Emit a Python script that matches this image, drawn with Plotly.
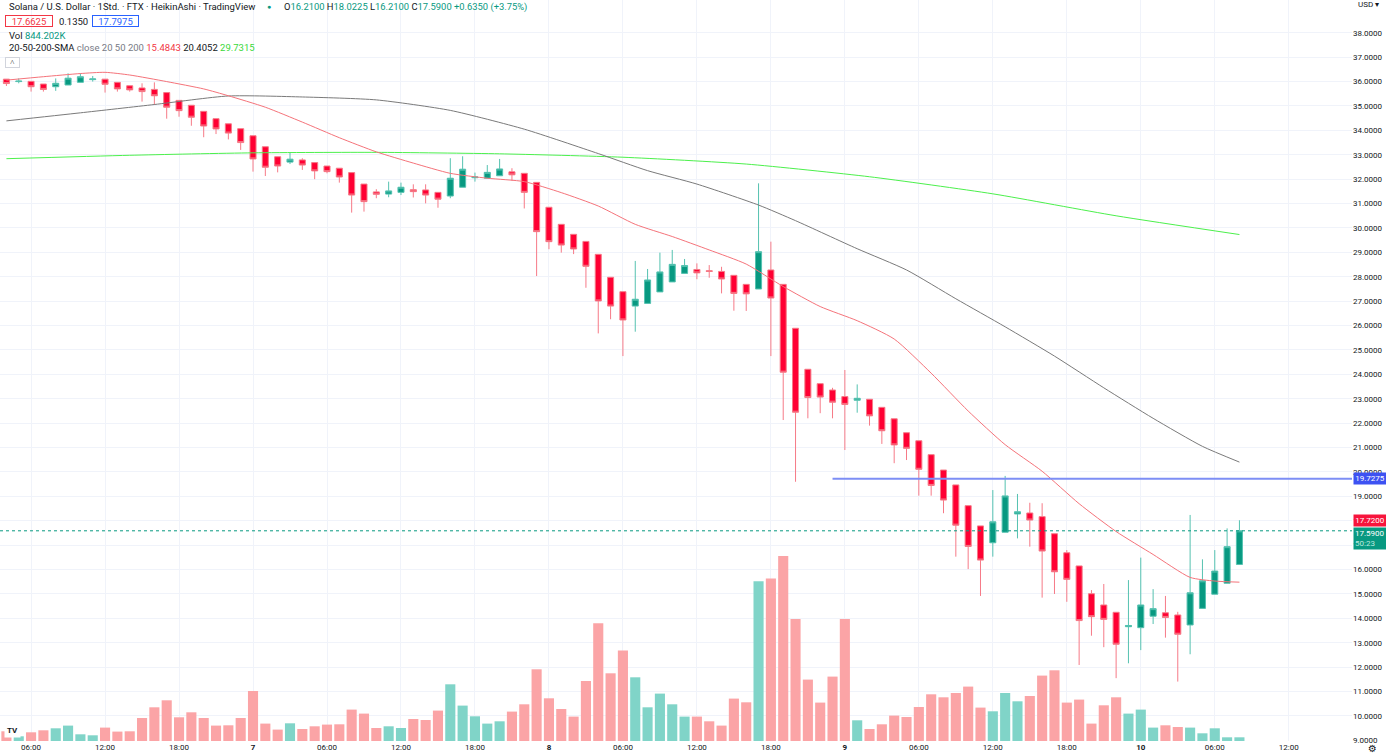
"""
Heikin Ashi SOL/USD hourly chart (FTX) with volume and 20/50/200 SMA,
redrawn in the TradingView look.
"""

import pandas as pd
import plotly.graph_objects as go

# ── data ──────────────────────────────────────────────────────
START = "2022-11-06 04:00"

OPEN = [
    36.10, 36.00, 36.01, 35.90, 35.79, 35.86, 35.97, 36.08, 36.10, 35.97,
    35.83, 35.74, 35.68, 35.55, 35.23, 35.03, 34.78, 34.48, 34.27, 34.07,
    33.78, 33.33, 32.92, 32.70, 32.79, 32.68, 32.54, 32.45, 32.27, 31.80,
    31.48, 31.39, 31.46, 31.57, 31.56, 31.46, 31.31, 31.67, 32.06, 32.04,
    32.14, 32.30, 32.24, 31.87, 30.85, 30.15, 29.74, 29.45, 28.92, 27.98,
    27.39, 26.80, 26.91, 27.38, 27.79, 28.14, 28.30, 28.25, 28.22, 28.06,
    27.69, 27.50, 28.28, 27.69, 25.89, 24.21, 23.62, 23.36, 23.09, 22.94,
    22.98, 22.65, 22.18, 21.61, 21.28, 20.71, 20.08, 19.47, 18.62, 17.79,
    17.10, 17.53, 18.28, 18.32, 18.17, 17.47, 16.69, 16.15, 15.01, 14.55,
    14.25, 13.66, 13.62, 14.09, 14.23, 14.14, 13.73, 14.41, 14.99, 15.44,
    16.21,
]
HIGH = [
    36.10, 36.13, 36.01, 35.90, 36.13, 36.34, 36.34, 36.23, 36.10, 35.97,
    35.83, 35.93, 35.97, 35.55, 35.23, 35.03, 34.78, 34.48, 34.27, 34.07,
    33.78, 33.33, 32.92, 33.09, 32.86, 32.68, 32.54, 32.45, 32.27, 31.80,
    31.59, 31.90, 31.86, 31.79, 31.79, 31.46, 32.86, 32.94, 32.27, 32.58,
    32.83, 32.45, 32.24, 31.87, 30.85, 30.15, 29.74, 29.45, 28.92, 27.98,
    27.39, 28.65, 28.32, 28.99, 29.10, 28.73, 28.55, 28.48, 28.41, 28.06,
    27.69, 31.83, 29.44, 27.69, 25.89, 24.21, 23.62, 23.45, 24.18, 23.59,
    22.98, 22.65, 22.18, 21.61, 21.28, 20.71, 20.08, 19.47, 18.62, 17.79,
    19.26, 19.84, 19.10, 18.74, 18.72, 17.47, 16.80, 16.15, 15.16, 15.41,
    14.25, 15.57, 16.49, 15.20, 14.92, 14.27, 18.24, 16.42, 16.80, 17.69,
    18.0225,
]
LOW = [
    35.82, 35.93, 35.59, 35.59, 35.62, 35.86, 35.97, 36.00, 35.55, 35.59,
    35.59, 35.18, 35.04, 34.48, 34.56, 34.19, 33.72, 33.85, 33.63, 33.20,
    32.31, 32.13, 32.28, 32.62, 32.38, 32.00, 32.24, 31.86, 30.63, 30.67,
    31.22, 31.26, 31.35, 31.25, 31.01, 30.83, 31.22, 31.67, 31.90, 32.04,
    32.14, 31.93, 30.80, 28.03, 29.13, 28.99, 28.93, 27.55, 25.68, 26.26,
    24.75, 25.75, 26.91, 27.38, 27.79, 28.14, 27.90, 27.96, 27.32, 26.61,
    26.60, 27.50, 24.75, 22.13, 19.60, 22.20, 22.41, 22.20, 20.90, 22.43,
    21.90, 21.15, 20.36, 20.49, 19.03, 19.03, 18.31, 16.53, 16.02, 14.92,
    16.53, 17.53, 17.28, 16.94, 14.85, 15.00, 14.68, 12.09, 13.29, 12.82,
    11.55, 12.16, 12.70, 13.77, 13.21, 11.41, 12.53, 14.41, 14.99, 15.44,
    16.21,
]
CLOSE = [
    35.92, 36.02, 35.79, 35.68, 35.93, 36.14, 36.20, 36.11, 35.89, 35.70,
    35.66, 35.59, 35.42, 34.95, 34.81, 34.54, 34.18, 34.06, 33.89, 33.50,
    32.83, 32.49, 32.54, 32.82, 32.58, 32.34, 32.31, 32.09, 31.35, 31.08,
    31.38, 31.52, 31.67, 31.49, 31.35, 31.18, 32.04, 32.41, 32.09, 32.28,
    32.42, 32.18, 31.46, 29.85, 29.44, 29.30, 29.14, 28.43, 27.01, 26.80,
    26.23, 27.08, 27.87, 28.20, 28.51, 28.46, 28.16, 28.22, 27.91, 27.32,
    27.30, 29.03, 27.13, 24.09, 22.45, 23.05, 23.07, 22.86, 22.77, 23.02,
    22.30, 21.69, 21.11, 20.97, 20.11, 19.45, 18.85, 17.82, 16.95, 16.39,
    17.96, 19.02, 18.37, 18.03, 16.76, 15.91, 15.60, 13.91, 14.07, 13.96,
    12.94, 13.71, 14.55, 14.40, 14.04, 13.35, 15.05, 15.54, 15.94, 16.94,
    17.59,
]
# volume in thousands
VOLUME = [
    2212, 1072, 1984, 2440, 2896, 3511, 1528, 1300, 3055, 2143,
    2212, 5244, 7684, 9280, 5404, 6544, 5244, 3511, 3580, 5244,
    11400, 3967, 2599, 4036, 2736, 3352, 3739, 3808, 7159, 6247,
    2964, 3352, 2964, 5016, 4788, 6931, 12928, 8071, 5632, 3967,
    4492, 6703, 8368, 16348, 9736, 7296, 5563, 13680, 26836, 15436,
    20611, 14524, 7684, 10807, 8368, 5563, 5563, 4492, 3511, 9667,
    8824, 36412, 37027, 42180, 27816, 13999, 8755, 14683, 27816, 4720,
    2736, 3808, 5791, 5472, 7752, 10648, 9964, 10944, 12403, 7615,
    6772, 10944, 9052, 10260, 14911, 16120, 8755, 9439, 3967, 8140,
    9964, 6247, 7159, 3055, 3580, 3192, 3055, 1756, 2896, 844,
    844.202,
]

SMA20_IDX = [0, 3, 6, 8, 10, 13, 16, 18, 21, 24, 27, 30, 33, 36, 39, 42, 45,
             48, 51, 54, 57, 60, 63, 66, 69, 72, 75, 78, 81, 84, 87, 90, 93,
             96, 98, 100]
SMA20_VAL = [36.06, 36.2, 36.33, 36.38, 36.27, 36.0, 35.7, 35.42, 34.95,
             34.34, 33.7, 33.12, 32.66, 32.24, 32.04, 31.9, 31.45, 30.9,
             30.15, 29.65, 29.1, 28.52, 27.6, 26.78, 26.2, 25.45, 24.05,
             22.5, 21.12, 20.03, 18.7, 17.56, 16.62, 15.68, 15.53, 15.4843]

SMA50_IDX = [0, 6, 12, 18, 24, 30, 36, 42, 48, 52, 56, 61, 64, 69, 73, 77,
             81, 85, 89, 93, 97, 100]
SMA50_VAL = [34.39, 34.72, 35.06, 35.41, 35.37, 35.25, 34.82, 34.05, 33.05,
             32.35, 31.8, 30.94, 30.3, 29.15, 28.28, 27.1, 25.95, 24.75,
             23.45, 22.2, 21.05, 20.4052]

SMA200_IDX = [0, 10, 20, 30, 40, 50, 60, 70, 80, 90, 100]
SMA200_VAL = [32.84, 32.98, 33.08, 33.1, 33.04, 32.9, 32.62, 32.1, 31.4,
              30.5, 29.7315]

HLINE_LEVEL = 19.7275
HLINE_START_IDX = 67
LAST_PRICE = 17.72

PRICE_TICKS = list(range(9, 39))
TICK_HOURS = [2, 8, 14, 20, 26, 32, 38, 44, 50, 56, 62, 68, 74, 80, 86, 92,
              98, 104]
TICK_TEXT = ["06:00", "12:00", "18:00", "<b>7</b>", "06:00", "12:00",
             "18:00", "<b>8</b>", "06:00", "12:00", "18:00", "<b>9</b>",
             "06:00", "12:00", "18:00", "<b>10</b>", "06:00", "12:00"]

UP = "#089981"
UP_WICK = "#55c2b0"
DOWN = "#ff0033"
DOWN_WICK = "#f67a87"
VOL_UP = "#80d4c8"
VOL_DOWN = "#fba4a6"
TEXT = "#131722"
GRID = "#f0f3fa"
FONT = "Roboto"

# ── helpers ───────────────────────────────────────────────────
times = pd.date_range(START, periods=len(CLOSE), freq="h")
t0 = times[0]


def at(idx):
    return t0 + pd.Timedelta(hours=idx)


PLOT_W, PLOT_H = 1352, 741


def px(x):
    return x / PLOT_W


def py(y):
    return 1 - y / PLOT_H


vol_colors = [VOL_UP if c >= o else VOL_DOWN for o, c in zip(OPEN, CLOSE)]

fig = go.Figure()

fig.add_trace(go.Bar(
    x=times, y=VOLUME, yaxis="y2",
    marker=dict(color=vol_colors, line=dict(width=0)),
    hoverinfo="skip", showlegend=False,
))

fig.add_trace(go.Candlestick(
    x=times, open=OPEN, high=HIGH, low=LOW, close=CLOSE,
    increasing=dict(line=dict(color=UP_WICK, width=1), fillcolor=UP),
    decreasing=dict(line=dict(color=DOWN_WICK, width=1), fillcolor=DOWN),
    whiskerwidth=0, hoverinfo="skip", showlegend=False,
))

for idx, vals, color in (
    (SMA200_IDX, SMA200_VAL, "#4cf04c"),
    (SMA50_IDX, SMA50_VAL, "#7a7a7a"),
    (SMA20_IDX, SMA20_VAL, "#f5737a"),
):
    fig.add_trace(go.Scatter(
        x=[times[i] for i in idx], y=vals, mode="lines",
        line=dict(color=color, width=1, shape="spline", smoothing=0.6),
        hoverinfo="skip", showlegend=False,
    ))

# last close dotted price line + horizontal level
fig.add_shape(type="line", xref="paper", x0=0, x1=1, yref="y",
              y0=CLOSE[-1], y1=CLOSE[-1],
              line=dict(color=UP, width=1, dash="dot"))
fig.add_shape(type="line", xref="x", x0=times[HLINE_START_IDX],
              x1=at(len(CLOSE) + 30), yref="y",
              y0=HLINE_LEVEL, y1=HLINE_LEVEL,
              line=dict(color="#7d8ef5", width=2))

x_range = [at(-0.52), at(109.13)]

fig.update_layout(
    width=1386, height=755,
    margin=dict(l=0, r=34, t=0, b=14),
    paper_bgcolor="white", plot_bgcolor="white",
    font=dict(family=FONT, color=TEXT, size=10),
    bargap=0.18, boxgap=0.3,
    xaxis=dict(
        type="date", range=x_range, rangeslider=dict(visible=False),
        tickvals=[at(h) for h in TICK_HOURS], ticktext=TICK_TEXT,
        tickfont=dict(size=8, color=TEXT), showgrid=True, gridcolor=GRID,
        zeroline=False, showline=False, ticks="", fixedrange=True,
    ),
    yaxis=dict(
        side="right", range=[8.975, 39.344], tickmode="array",
        tickvals=PRICE_TICKS, ticktext=[f"{v:.4f}" for v in PRICE_TICKS],
        tickfont=dict(size=8, color=TEXT),
        showgrid=True, gridcolor=GRID, zeroline=False, showline=False,
        ticks="", fixedrange=True,
    ),
    yaxis2=dict(
        overlaying="y", range=[0, PLOT_H * 228], visible=False,
        fixedrange=True,
    ),
    showlegend=False,
)

# ── header (legend rows) ──────────────────────────────────────
g = f"color:{UP}"
HEAD_SIZE = 9.5
ohlc = (
    f"O<span style='{g}'>16.2100</span> H<span style='{g}'>18.0225</span> "
    f"L<span style='{g}'>16.2100</span> C<span style='{g}'>17.5900</span> "
    f"<span style='{g}'>+0.6350 (+3.75%)</span>"
)
head = [
    (7, 7, "Solana / U.S. Dollar · 1Std. · FTX · HeikinAshi · TradingView",
     HEAD_SIZE, {}),
    (265, 7, f"<span style='{g}'>●</span>", 7, {}),
    (282, 7, ohlc, 9.4, {}),
    (5, 21, "<span style='color:#f23645'>17.6625</span>", HEAD_SIZE,
     dict(bordercolor="#f23645", borderwidth=1, borderpad=0, width=46,
          height=10)),
    (57, 21, "0.1350", HEAD_SIZE, {}),
    (92, 21, "<span style='color:#2962ff'>17.7975</span>", HEAD_SIZE,
     dict(bordercolor="#2962ff", borderwidth=1, borderpad=0, width=45,
          height=10)),
    (7, 35, f"Vol <span style='{g}'>844.202K</span>", HEAD_SIZE, {}),
    (7, 48, "20-50-200-SMA <span style='color:#787b86'>close 20 50 200</span> "
            "<span style='color:#f23645'>15.4843</span> 20.4052 "
            "<span style='color:#3ad83a'>29.7315</span>", HEAD_SIZE, {}),
]
for x, y, text, size, extra in head:
    fig.add_annotation(
        xref="paper", yref="paper", x=px(x), y=py(y), text=text,
        xanchor="left", yanchor="middle", showarrow=False,
        font=dict(size=size, color=TEXT, family=FONT), **extra,
    )

fig.add_annotation(
    xref="paper", yref="paper", x=px(5), y=py(62), text="˄",
    xanchor="left", yanchor="middle", showarrow=False, width=13, height=9,
    font=dict(size=8, color=TEXT), bordercolor="#d1d4dc", borderwidth=1,
    borderpad=0,
)

# ── price scale labels ────────────────────────────────────────
fig.add_annotation(
    xref="paper", yref="paper", x=px(1356), y=py(5), text="USD ▾",
    xanchor="left", yanchor="middle", showarrow=False, bgcolor="white",
    font=dict(size=8, color=TEXT),
)
fig.add_annotation(
    xref="paper", yref="y", x=1, y=HLINE_LEVEL, xshift=1,
    text=f"{HLINE_LEVEL:.4f}", xanchor="left", yanchor="middle",
    showarrow=False, bgcolor="#3d52f2", width=30, borderpad=1,
    font=dict(size=8, color="white"),
)
fig.add_annotation(
    xref="paper", yref="y", x=1, y=CLOSE[-1], xshift=1, yshift=4,
    text=f"{LAST_PRICE:.4f}", xanchor="left", yanchor="bottom",
    showarrow=False, bgcolor="#f7143c", width=30, borderpad=1,
    font=dict(size=8, color="white"),
)
fig.add_annotation(
    xref="paper", yref="y", x=1, y=CLOSE[-1], xshift=1, yshift=4,
    text=f"{CLOSE[-1]:.4f}<br><span style='color:#bfe8de'>50:23</span>",
    xanchor="left", yanchor="top", showarrow=False, bgcolor=UP,
    width=30, borderpad=1, align="left",
    font=dict(size=8, color="white"),
)
fig.add_annotation(
    xref="paper", yref="paper", x=px(1372), y=py(748), text="⚙",
    xanchor="center", yanchor="middle", showarrow=False,
    font=dict(size=10, color=TEXT, family="DejaVu Sans"),
)
fig.add_annotation(
    xref="paper", yref="paper", x=px(12), y=py(730), text="<b>TV</b>",
    xanchor="center", yanchor="middle", showarrow=False, bgcolor="white",
    font=dict(size=8, color=TEXT), borderpad=2,
)

# the page's default 8px body margin would push the chart out of the window
fig.write_html(
    "out.html",
    config={"displayModeBar": False},
    post_script="document.body.style.margin='0';",
)
